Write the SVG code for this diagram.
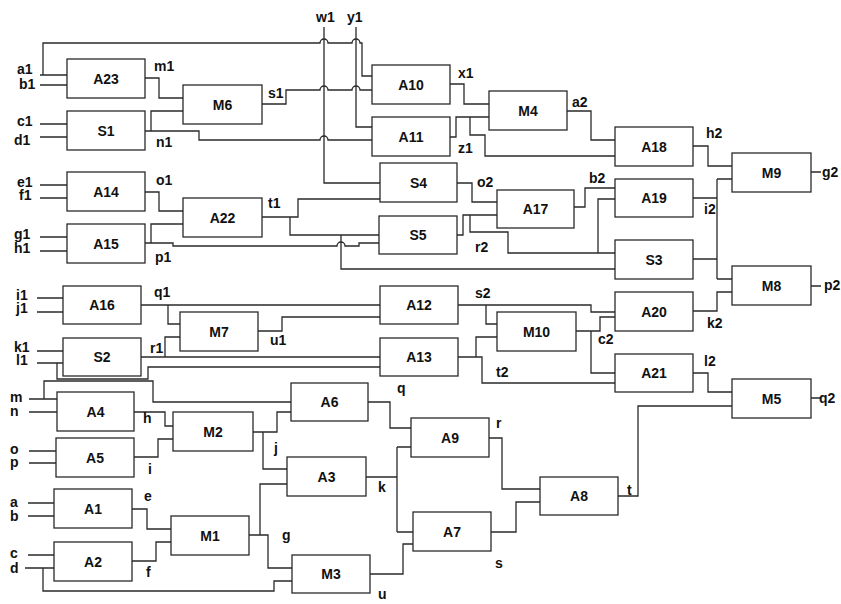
<svg xmlns="http://www.w3.org/2000/svg" width="841" height="604" viewBox="0 0 841 604">
<style>
rect{fill:#fff;stroke:#2a2a2a;stroke-width:1.3}
path{fill:none;stroke:#2a2a2a;stroke-width:1.3}
text{font-family:"Liberation Sans",Arial,sans-serif;font-weight:bold;fill:#111}
.n{font-size:14px;text-anchor:middle}
.l{font-size:14px}
</style>
<rect x="0" y="0" width="841" height="604" style="fill:#fff;stroke:none"/>
<g id="connectors">
<path d="M40,75 H67 M43,75 V43 H320 a4,4 0 0 1 8,0 H352 a4,4 0 0 1 8,0 H362 V76 H372"/>
<path d="M40,85 H67 M40,124 H67 M40,137 H67"/>
<path d="M145,78 H159 V98 H183"/>
<path d="M145,131 H199 V140 H320 a4,4 0 0 1 8,0 H372 M151,131 V111 H183"/>
<path d="M262,104 H286 V90 H320 a4,4 0 0 1 8,0 H352 a4,4 0 0 1 8,0 H372"/>
<path d="M324,27 V183 H380"/>
<path d="M356,27 V127 H372"/>
<path d="M40,185 H67 M40,198 H67 M40,237 H67 M40,251 H67"/>
<path d="M145,192 H159 V211 H183"/>
<path d="M145,243 H173 V246 H337 a4,4 0 0 1 8,0 H359 V243 H379 M151,243 V224 H183"/>
<path d="M262,217 H298 V199 H380 M290,217 V235 H379 M341,235 V269 H615"/>
<path d="M450,84 H464 V104 H489"/>
<path d="M450,137 H456 V117 H489 M470,117 V135 H485 V156 H615"/>
<path d="M567,111 H591 V140 H615"/>
<path d="M457,183 H472 V202 H497"/>
<path d="M457,235 H463 V215 H497 M470,215 V232 H508 V253 H615 M598,253 V199 H615"/>
<path d="M574,207 H585 V188 H615"/>
<path d="M693,146 H708 V166 H732"/>
<path d="M693,198 H717 M717,179 V279 M717,179 H732 M717,279 H732 M693,259 H717"/>
<path d="M811,172 H821 M811,286 H821 M811,398 H821"/>
<path d="M37,298 H63 M37,312 H63 M37,351 H63 M37,363 H63"/>
<path d="M141,305 H380 M168,305 V324 H180"/>
<path d="M57,363 V379 H148 V367 H380"/>
<path d="M141,357 H380 M165,357 V337 H180"/>
<path d="M258,331 H282 V317 H380"/>
<path d="M458,305 H591 V312 H615 M486,305 V324 H497"/>
<path d="M458,357 H482 V383 H615 M476,357 V337 H497"/>
<path d="M576,331 H600 V317 H615 M591,331 V373 H615"/>
<path d="M693,311 H717 V292 H732"/>
<path d="M693,373 H708 V392 H732"/>
<path d="M29,399 H57 M44,399 V381 H153 V402 H291 M29,412 H57"/>
<path d="M134,412 H165 V426 H173"/>
<path d="M29,451 H56 M29,463 H56"/>
<path d="M134,457 H158 V439 H173"/>
<path d="M253,432 H277 V412 H291 M263,432 V469 H287"/>
<path d="M368,402 H390 V428 H411"/>
<path d="M366,477 H397 M397,447 V532 M397,447 H411 M397,532 H413"/>
<path d="M28,503 H54 M28,516 H54 M28,555 H54 M25,568 H54 M43,568 V591 H274 V581 H292"/>
<path d="M132,509 H147 V529 H171"/>
<path d="M132,561 H156 V542 H171"/>
<path d="M249,535 H268 V568 H292 M260,535 V484 H287"/>
<path d="M370,574 H403 V544 H413"/>
<path d="M489,438 H502 V489 H540"/>
<path d="M491,532 H516 V502 H540"/>
<path d="M618,496 H638 V406 H732"/>
</g>
<g id="A23"><rect x="67" y="59" width="78" height="39"/><text class="n" x="106" y="83.5">A23</text></g>
<g id="S1"><rect x="67" y="111" width="78" height="39"/><text class="n" x="106" y="135.5">S1</text></g>
<g id="A14"><rect x="67" y="172" width="78" height="39"/><text class="n" x="106" y="196.5">A14</text></g>
<g id="A15"><rect x="67" y="224" width="78" height="39"/><text class="n" x="106" y="248.5">A15</text></g>
<g id="A16"><rect x="63" y="286" width="78" height="38"/><text class="n" x="102" y="310">A16</text></g>
<g id="S2"><rect x="63" y="338" width="78" height="38"/><text class="n" x="102" y="362">S2</text></g>
<g id="A4"><rect x="57" y="392" width="77" height="39"/><text class="n" x="95.5" y="416.5">A4</text></g>
<g id="A5"><rect x="56" y="438" width="78" height="39"/><text class="n" x="95" y="462.5">A5</text></g>
<g id="A1"><rect x="54" y="489" width="78" height="39"/><text class="n" x="93" y="513.5">A1</text></g>
<g id="A2"><rect x="54" y="542" width="78" height="39"/><text class="n" x="93" y="566.5">A2</text></g>
<g id="M1"><rect x="171" y="516" width="78" height="39"/><text class="n" x="210" y="540.5">M1</text></g>
<g id="M2"><rect x="173" y="412" width="80" height="39"/><text class="n" x="213" y="436.5">M2</text></g>
<g id="M3"><rect x="292" y="555" width="78" height="38"/><text class="n" x="331" y="579">M3</text></g>
<g id="A3"><rect x="287" y="457" width="79" height="39"/><text class="n" x="326.5" y="481.5">A3</text></g>
<g id="A6"><rect x="291" y="383" width="77" height="38"/><text class="n" x="329.5" y="407">A6</text></g>
<g id="A7"><rect x="413" y="512" width="78" height="39"/><text class="n" x="452" y="536.5">A7</text></g>
<g id="A8"><rect x="540" y="477" width="78" height="38"/><text class="n" x="579" y="501">A8</text></g>
<g id="A9"><rect x="411" y="418" width="78" height="39"/><text class="n" x="450" y="442.5">A9</text></g>
<g id="M6"><rect x="183" y="85" width="79" height="39"/><text class="n" x="222.5" y="109.5">M6</text></g>
<g id="A22"><rect x="183" y="198" width="79" height="39"/><text class="n" x="222.5" y="222.5">A22</text></g>
<g id="M7"><rect x="180" y="312" width="78" height="39"/><text class="n" x="219" y="336.5">M7</text></g>
<g id="A10"><rect x="372" y="65" width="78" height="39"/><text class="n" x="411" y="89.5">A10</text></g>
<g id="A11"><rect x="372" y="117" width="78" height="39"/><text class="n" x="411" y="141.5">A11</text></g>
<g id="S4"><rect x="380" y="163" width="77" height="39"/><text class="n" x="418.5" y="187.5">S4</text></g>
<g id="S5"><rect x="379" y="216" width="78" height="38"/><text class="n" x="418" y="240">S5</text></g>
<g id="A12"><rect x="380" y="286" width="78" height="38"/><text class="n" x="419" y="310">A12</text></g>
<g id="A13"><rect x="380" y="338" width="78" height="38"/><text class="n" x="419" y="362">A13</text></g>
<g id="M4"><rect x="489" y="91" width="78" height="39"/><text class="n" x="528" y="115.5">M4</text></g>
<g id="A17"><rect x="497" y="190" width="77" height="38"/><text class="n" x="535.5" y="214">A17</text></g>
<g id="M10"><rect x="497" y="312" width="79" height="39"/><text class="n" x="536.5" y="336.5">M10</text></g>
<g id="A18"><rect x="615" y="127" width="78" height="39"/><text class="n" x="654" y="151.5">A18</text></g>
<g id="A19"><rect x="615" y="179" width="78" height="38"/><text class="n" x="654" y="203">A19</text></g>
<g id="S3"><rect x="615" y="240" width="78" height="39"/><text class="n" x="654" y="264.5">S3</text></g>
<g id="A20"><rect x="615" y="292" width="78" height="39"/><text class="n" x="654" y="316.5">A20</text></g>
<g id="A21"><rect x="615" y="354" width="78" height="38"/><text class="n" x="654" y="378">A21</text></g>
<g id="M9"><rect x="732" y="153" width="79" height="39"/><text class="n" x="771.5" y="177.5">M9</text></g>
<g id="M8"><rect x="732" y="266" width="79" height="39"/><text class="n" x="771.5" y="290.5">M8</text></g>
<g id="M5"><rect x="732" y="379" width="79" height="39"/><text class="n" x="771.5" y="403.5">M5</text></g>
<g id="labels">
<text class="l" x="17" y="74">a1</text>
<text class="l" x="19" y="89">b1</text>
<text class="l" x="17" y="126">c1</text>
<text class="l" x="14" y="145">d1</text>
<text class="l" x="17" y="187">e1</text>
<text class="l" x="19" y="200">f1</text>
<text class="l" x="14" y="239">g1</text>
<text class="l" x="14" y="253">h1</text>
<text class="l" x="16" y="300">i1</text>
<text class="l" x="16" y="313">j1</text>
<text class="l" x="14" y="352">k1</text>
<text class="l" x="16" y="365">l1</text>
<text class="l" x="10" y="402">m</text>
<text class="l" x="10" y="416">n</text>
<text class="l" x="10" y="454">o</text>
<text class="l" x="10" y="467">p</text>
<text class="l" x="10" y="507">a</text>
<text class="l" x="10" y="521">b</text>
<text class="l" x="10" y="558">c</text>
<text class="l" x="10" y="573">d</text>
<text class="l" x="154" y="71">m1</text>
<text class="l" x="156" y="147">n1</text>
<text class="l" x="156" y="185">o1</text>
<text class="l" x="155" y="262">p1</text>
<text class="l" x="154" y="297">q1</text>
<text class="l" x="150" y="353">r1</text>
<text class="l" x="268" y="98">s1</text>
<text class="l" x="268" y="208">t1</text>
<text class="l" x="270" y="345">u1</text>
<text class="l" x="316" y="22">w1</text>
<text class="l" x="347" y="22">y1</text>
<text class="l" x="458" y="78">x1</text>
<text class="l" x="458" y="153">z1</text>
<text class="l" x="572" y="107">a2</text>
<text class="l" x="477" y="187">o2</text>
<text class="l" x="589" y="183">b2</text>
<text class="l" x="475" y="252">r2</text>
<text class="l" x="475" y="298">s2</text>
<text class="l" x="496" y="377">t2</text>
<text class="l" x="598" y="344">c2</text>
<text class="l" x="706" y="138">h2</text>
<text class="l" x="704" y="214">i2</text>
<text class="l" x="822" y="177">g2</text>
<text class="l" x="824" y="290">p2</text>
<text class="l" x="707" y="328">k2</text>
<text class="l" x="704" y="366">l2</text>
<text class="l" x="819" y="403">q2</text>
<text class="l" x="397" y="393">q</text>
<text class="l" x="143" y="423">h</text>
<text class="l" x="148" y="474">i</text>
<text class="l" x="144" y="501">e</text>
<text class="l" x="146" y="577">f</text>
<text class="l" x="274" y="453">j</text>
<text class="l" x="378" y="492">k</text>
<text class="l" x="282" y="540">g</text>
<text class="l" x="378" y="599">u</text>
<text class="l" x="496" y="428">r</text>
<text class="l" x="495" y="568">s</text>
<text class="l" x="627" y="495">t</text>
</g>
</svg>
